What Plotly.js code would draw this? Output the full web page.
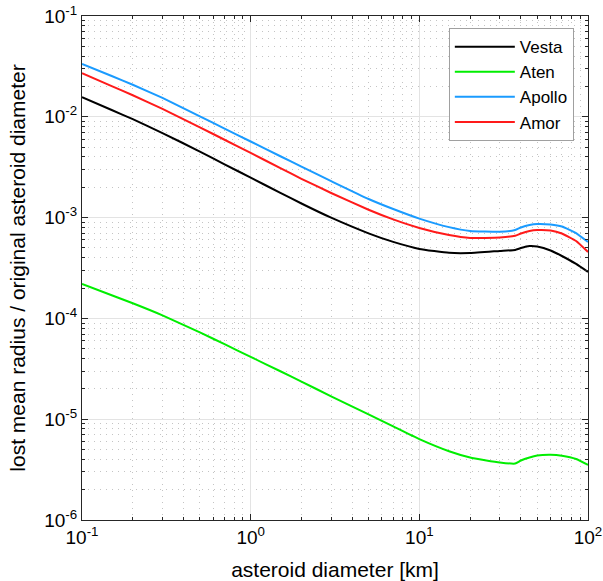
<!DOCTYPE html>
<html>
<head>
<meta charset="utf-8">
<script src="https://cdn.plot.ly/plotly-3.0.1.min.js"></script>
<style>html,body{margin:0;padding:0;background:#fff;}#plot{width:603px;height:581px;}</style>
</head>
<body>
<div id="plot"></div>
<script>
const diameter = [0.1, 0.15, 0.2, 0.3, 0.5, 0.7, 1, 1.5, 2, 3, 5, 7, 10, 15, 20, 30, 37, 40, 45, 50, 60, 70, 85, 100];
const vesta  = [0.01570, 0.01168, 0.00947, 0.00690, 0.00452, 0.00338, 0.00249, 0.00176, 0.00138, 0.000998, 0.000698, 0.000574, 0.000489, 0.000447, 0.000445, 0.000467, 0.000478, 0.000499, 0.000522, 0.000516, 0.000472, 0.000416, 0.000347, 0.000289];
const aten   = [2.203e-4, 1.698e-4, 1.413e-4, 1.072e-4, 7.26e-5, 5.55e-5, 4.15e-5, 2.99e-5, 2.36e-5, 1.687e-5, 1.114e-5, 8.47e-6, 6.34e-6, 4.81e-6, 4.17e-6, 3.72e-6, 3.63e-6, 3.89e-6, 4.17e-6, 4.36e-6, 4.43e-6, 4.34e-6, 4.03e-6, 3.52e-6];
const apollo = [0.0334, 0.0254, 0.0208, 0.01539, 0.0101, 0.00764, 0.00569, 0.00406, 0.00320, 0.00230, 0.00153, 0.001216, 0.000977, 0.000804, 0.000736, 0.000724, 0.000753, 0.000798, 0.000845, 0.000865, 0.000855, 0.000817, 0.000703, 0.000573];
const amor   = [0.02704, 0.02018, 0.01637, 0.01197, 0.00787, 0.00592, 0.00438, 0.00310, 0.002427, 0.001754, 0.001197, 0.000959, 0.000789, 0.000671, 0.000628, 0.000635, 0.000661, 0.000695, 0.000736, 0.000753, 0.000745, 0.000695, 0.000586, 0.000456];

const xTickVals = [0.1, 1, 10, 100];
const xTickText = ['10<sup>-1</sup>', '10<sup>0</sup>', '10<sup>1</sup>', '10<sup>2</sup>'];
const yTickVals = [1e-6, 1e-5, 1e-4, 1e-3, 1e-2, 1e-1];
const yTickText = ['10<sup>-6</sup>', '10<sup>-5</sup>', '10<sup>-4</sup>', '10<sup>-3</sup>', '10<sup>-2</sup>', '10<sup>-1</sup>'];

function minorVals(e0, e1) {
  const out = [];
  for (let e = e0; e < e1; e++) for (let m = 2; m <= 9; m++) out.push(m * Math.pow(10, e));
  return out;
}

const font = 'Liberation Sans, Arial, sans-serif';
const lineCol = '#262626';
const lineStyle = (c) => ({color: c, width: 2, shape: 'spline', smoothing: 0.4});

const traces = [
  {x: diameter, y: vesta,  name: 'Vesta',  mode: 'lines', line: lineStyle('#000000')},
  {x: diameter, y: aten,   name: 'Aten',   mode: 'lines', line: lineStyle('#00ee00')},
  {x: diameter, y: apollo, name: 'Apollo', mode: 'lines', line: lineStyle('#1a9bff')},
  {x: diameter, y: amor,   name: 'Amor',   mode: 'lines', line: lineStyle('#ff1a1a')}
];

const axisCommon = {
  type: 'log',
  showline: true, linecolor: lineCol, linewidth: 1, mirror: 'ticks',
  ticks: 'inside', ticklen: 6, tickcolor: lineCol, tickwidth: 1,
  showgrid: true, gridcolor: '#e3e3e3', gridwidth: 1,
  zeroline: false,
  tickmode: 'array',
  tickfont: {family: font, size: 19, color: '#000'}
};

const minorCommon = {tickmode: 'array', ticks: 'inside', ticklen: 3, tickcolor: lineCol,
  showgrid: true, gridcolor: '#c4c4c4', griddash: '1px,5px', gridwidth: 1};

const layout = {
  width: 603, height: 581,
  margin: {l: 82, r: 15, t: 16, b: 61},
  paper_bgcolor: '#fff', plot_bgcolor: '#fff',
  font: {family: font, color: '#000'},
  showlegend: true,
  legend: {
    x: 0.972, y: 0.976, xanchor: 'right', yanchor: 'top',
    bgcolor: '#fff', bordercolor: '#a0a0a0', borderwidth: 1,
    font: {family: font, size: 17, color: '#000'},
    itemwidth: 60,
    tracegroupgap: 0
  },
  xaxis: Object.assign({}, axisCommon, {
    range: [-1, 2],
    tickvals: xTickVals, ticktext: xTickText,
    minor: Object.assign({tickvals: minorVals(-1, 2)}, minorCommon),
    title: {text: 'asteroid diameter [km]', font: {family: font, size: 21, color: '#000'}, standoff: 16}
  }),
  yaxis: Object.assign({}, axisCommon, {
    range: [-6, -1],
    tickvals: yTickVals, ticktext: yTickText,
    minor: Object.assign({tickvals: minorVals(-6, -1)}, minorCommon),
    title: {text: 'lost mean radius / original asteroid diameter', font: {family: font, size: 21, color: '#000'}, standoff: 12}
  })
};

Plotly.newPlot('plot', traces, layout, {displayModeBar: false, staticPlot: true});
</script>
</body>
</html>
